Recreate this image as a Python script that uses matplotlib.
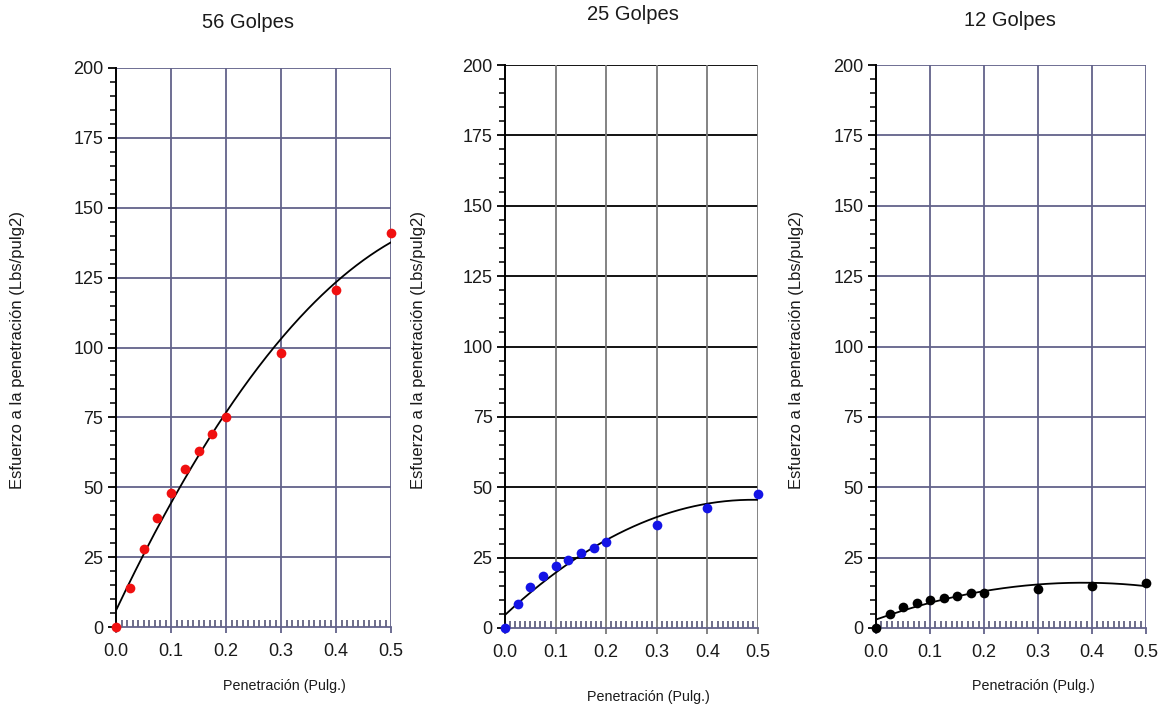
import numpy as np
import matplotlib
matplotlib.use("Agg")
import matplotlib.pyplot as plt
from matplotlib.ticker import MultipleLocator, FormatStrFormatter

plt.rcParams['font.family'] = ['Liberation Sans', 'DejaVu Sans']

# ---- data ----
penetration = [0.0, 0.025, 0.05, 0.075, 0.1, 0.125, 0.15, 0.175, 0.2, 0.3, 0.4, 0.5]
stress_56 = [0, 14, 28, 39, 48, 56.5, 63, 69, 75, 98, 120.5, 141]
stress_25 = [0, 8.5, 14.5, 18.5, 22, 24, 26.5, 28.5, 30.5, 36.5, 42.5, 47.5]
stress_12 = [0, 5, 7.5, 9, 10, 10.5, 11.5, 12.5, 12.5, 14, 15, 16]
titles = ["56 Golpes", "25 Golpes", "12 Golpes"]
colors = ["#f01010", "#1414e6", "#000000"]
ylabel = "Esfuerzo a la penetración (Lbs/pulg2)"
xlabel = "Penetración (Pulg.)"

fig = plt.figure(figsize=(11.63, 7.04), dpi=100)
W, H = 1163, 704

# axes boxes in pixels: left, right, top, bottom
boxes = [(116, 391, 68, 627), (505, 758, 65, 628), (876, 1146, 65, 628)]
title_pos = [(248, 23), (633, 15), (1010, 21)]
xlab_pos = [(284, 686), (648, 697), (1033, 686)]
ylab_x = [18, 418, 797]
hgrid_colors = ["#62628a", "#000000", "#62628a"]
vgrid_colors = ["#62628a", "#7a7a7a", "#62628a"]
series = [stress_56, stress_25, stress_12]
text_color = "#1a1a1a"

for i in range(3):
    l, r, t, b = boxes[i]
    ax = fig.add_axes([l / W, (H - b) / H, (r - l) / W, (b - t) / H])
    x = np.array(penetration)
    y = np.array(series[i])
    coef = np.polyfit(x, y, 2)
    xs = np.linspace(0, 0.5, 200)
    ax.set_xlim(0, 0.5)
    ax.set_ylim(0, 200)
    # grid
    for gy in np.arange(25, 201, 25):
        ax.axhline(gy, color=hgrid_colors[i], lw=1.3, zorder=1)
    for gx in np.arange(0.1, 0.51, 0.1):
        ax.axvline(gx, color=vgrid_colors[i], lw=1.3, zorder=1)
    ax.plot(xs, np.polyval(coef, xs), color="black", lw=1.3, zorder=3)
    ax.plot(x, y, 'o', color=colors[i], ms=7, mec='none', zorder=4, clip_on=False)

    for s in ["top", "right"]:
        ax.spines[s].set_visible(False)
    ax.spines["left"].set_color("black")
    ax.spines["left"].set_linewidth(1.4)
    ax.spines["bottom"].set_color("#62628a")
    ax.spines["bottom"].set_linewidth(1.3)

    ax.yaxis.set_major_locator(MultipleLocator(25))
    ax.yaxis.set_minor_locator(MultipleLocator(5))
    ax.xaxis.set_major_locator(MultipleLocator(0.1))
    ax.xaxis.set_minor_locator(MultipleLocator(0.01))
    ax.xaxis.set_major_formatter(FormatStrFormatter('%.1f'))
    ax.tick_params(axis='y', which='major', direction='out', length=6, width=1.3,
                   color='black', labelsize=13, labelcolor=text_color, pad=3)
    ax.tick_params(axis='y', which='minor', direction='out', length=4, width=1.1, color='black')
    ax.tick_params(axis='x', which='major', direction='out', length=4, width=1.3,
                   color=vgrid_colors[i], labelsize=13, labelcolor=text_color, pad=7.5)
    ax.tick_params(axis='x', which='minor', direction='in', length=5, width=1.2, color='#555577')
    ax.set_facecolor('white')

    fig.text(title_pos[i][0] / W, 1 - title_pos[i][1] / H, titles[i],
             ha='center', va='center', fontsize=14.5, color=text_color)
    fig.text(xlab_pos[i][0] / W, 1 - xlab_pos[i][1] / H, xlabel,
             ha='center', va='center', fontsize=10.3, color=text_color)
    fig.text(ylab_x[i] / W, 1 - 350 / H, ylabel, rotation=90,
             ha='center', va='center', fontsize=12, color=text_color)

fig.savefig("out.png", dpi=100, facecolor='white')
